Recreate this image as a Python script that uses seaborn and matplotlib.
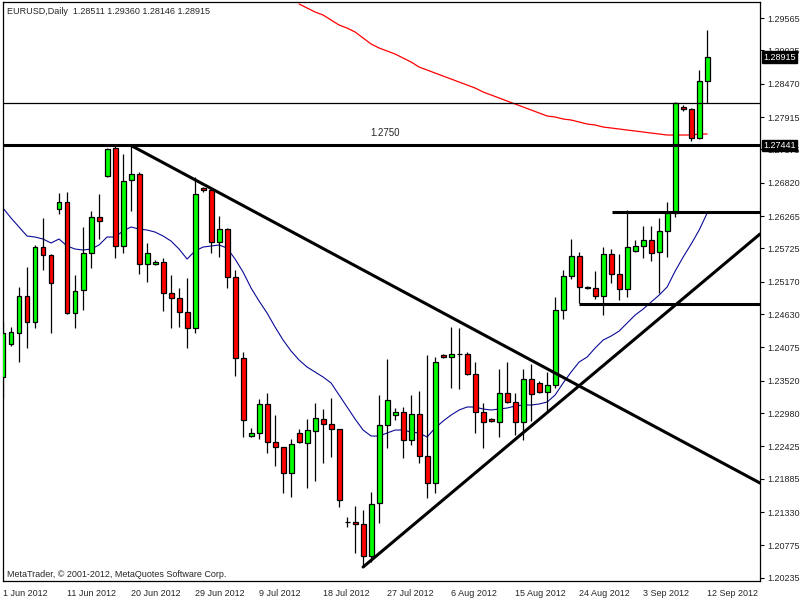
import matplotlib
matplotlib.use('Agg')
import matplotlib.pyplot as plt
import seaborn as sns
import numpy as np

# EURUSD daily bars, 1 Jun 2012 .. 12 Sep 2012 (broker shows Sunday bars too)
opens = [1.23582, 1.24132, 1.24315, 1.24932, 1.24498, 1.25748, 1.25615, 1.26382, 1.26498, 1.24648,
         1.25032, 1.25648, 1.26248, 1.26932, 1.27398, 1.25765, 1.26865, 1.26965, 1.25465, 1.25465,
         1.25498, 1.24982, 1.24898, 1.24665, 1.24398, 1.26732, 1.26698, 1.25832, 1.26048, 1.25248,
         1.23898, 1.22598, 1.22648, 1.23132, 1.22498, 1.22415, 1.21982, 1.22648, 1.22482, 1.22682,
         1.22882, 1.22798, 1.22715, 1.21165, 1.21165, 1.21132, 1.20598, 1.21482, 1.22782, 1.22948,
         1.22998, 1.22532, 1.22965, 1.22265, 1.21815, 1.23948, 1.23915, 1.23965, 1.23965, 1.23632,
         1.22998, 1.22882, 1.22832, 1.23315, 1.23165, 1.22832, 1.23548, 1.23482, 1.23332, 1.23448,
         1.24698, 1.25265, 1.25598, 1.25082, 1.25065, 1.24932, 1.25632, 1.25298, 1.25048, 1.25682,
         1.25765, 1.25865, 1.25665, 1.26015, 1.26315, 1.28082, 1.28048, 1.27565, 1.28511]
highs = [1.24498, 1.24415, 1.25082, 1.25415, 1.25782, 1.26232, 1.25632, 1.26648, 1.26665, 1.25282,
         1.26082, 1.26348, 1.26632, 1.27398, 1.27441, 1.27298, 1.27432, 1.26998, 1.25815, 1.25532,
         1.25565, 1.25282, 1.25065, 1.25232, 1.26915, 1.26748, 1.26732, 1.26265, 1.26060, 1.25365,
         1.23998, 1.22732, 1.23215, 1.23315, 1.22948, 1.22420, 1.22548, 1.22715, 1.22882, 1.23148,
         1.23048, 1.23232, 1.22720, 1.21248, 1.21432, 1.21365, 1.21665, 1.23282, 1.23882, 1.23065,
         1.23082, 1.23282, 1.23348, 1.23948, 1.23915, 1.23965, 1.24415, 1.24398, 1.23998, 1.23832,
         1.23148, 1.22898, 1.23715, 1.23832, 1.23315, 1.23715, 1.23798, 1.23515, 1.23665, 1.24915,
         1.25365, 1.25882, 1.25665, 1.25098, 1.25348, 1.25748, 1.25715, 1.25632, 1.26365, 1.25865,
         1.26098, 1.26098, 1.26232, 1.26498, 1.28165, 1.28115, 1.28065, 1.28698, 1.29360]
lows = [1.23232, 1.24098, 1.23832, 1.24065, 1.24398, 1.25365, 1.24315, 1.26298, 1.24632, 1.24398,
        1.24698, 1.25398, 1.25882, 1.26915, 1.25565, 1.25648, 1.26348, 1.25298, 1.25165, 1.25448,
        1.24682, 1.24398, 1.24415, 1.24065, 1.24315, 1.26665, 1.25648, 1.25582, 1.25065, 1.23598,
        1.22582, 1.22582, 1.22548, 1.22315, 1.22098, 1.21648, 1.21582, 1.22482, 1.21732, 1.21848,
        1.22148, 1.22248, 1.21415, 1.21082, 1.20648, 1.20415, 1.20498, 1.21148, 1.22398, 1.22865,
        1.22232, 1.22448, 1.22148, 1.21565, 1.21648, 1.23898, 1.23398, 1.23382, 1.23620, 1.22648,
        1.22398, 1.22832, 1.22582, 1.23148, 1.22615, 1.22532, 1.22848, 1.23315, 1.22982, 1.23398,
        1.24548, 1.25215, 1.24815, 1.25048, 1.24882, 1.24615, 1.25148, 1.24865, 1.24915, 1.25665,
        1.25565, 1.25515, 1.24982, 1.25582, 1.26248, 1.28015, 1.27515, 1.27550, 1.28146]
closes = [1.24315, 1.24332, 1.24932, 1.24498, 1.25748, 1.25615, 1.25148, 1.26498, 1.24648, 1.25015,
          1.25648, 1.26248, 1.26182, 1.27382, 1.25765, 1.26848, 1.26965, 1.25465, 1.25648, 1.25498,
          1.24982, 1.24898, 1.24665, 1.24398, 1.26632, 1.26698, 1.25832, 1.26048, 1.25248, 1.23898,
          1.22865, 1.22648, 1.23132, 1.22498, 1.22415, 1.21982, 1.22465, 1.22498, 1.22698, 1.22898,
          1.22798, 1.22715, 1.21532, 1.21165, 1.21132, 1.20598, 1.21465, 1.22782, 1.23198, 1.22998,
          1.22532, 1.22965, 1.22265, 1.21815, 1.23832, 1.23915, 1.23965, 1.23965, 1.23632, 1.22998,
          1.22832, 1.22848, 1.23315, 1.23165, 1.22832, 1.23548, 1.23298, 1.23332, 1.23448, 1.24698,
          1.25265, 1.25598, 1.25082, 1.25065, 1.24932, 1.25632, 1.25298, 1.25048, 1.25748, 1.25765,
          1.25865, 1.25648, 1.26015, 1.26315, 1.28148, 1.28048, 1.27565, 1.28511, 1.28915]

# blue moving average, one value per bar
ma_fast = [1.26398, 1.26232, 1.26082, 1.25932, 1.25915, 1.25882, 1.25815, 1.25882, 1.25765, 1.25715,
           1.25698, 1.25715, 1.25782, 1.25915, 1.25915, 1.26015, 1.26082, 1.26048, 1.26032, 1.25998,
           1.25932, 1.25848, 1.25715, 1.25548, 1.25682, 1.25748, 1.25765, 1.25782, 1.25732, 1.25548,
           1.25332, 1.25065, 1.24848, 1.24648, 1.24415, 1.24198, 1.24015, 1.23865, 1.23748, 1.23665,
           1.23582, 1.23482, 1.23282, 1.23082, 1.22882, 1.22698, 1.22598, 1.22598, 1.22648, 1.22698,
           1.22698, 1.22665, 1.22648, 1.22582, 1.22732, 1.22848, 1.22948, 1.23032, 1.23082, 1.23082,
           1.23048, 1.23032, 1.23048, 1.23065, 1.23098, 1.23115, 1.23115, 1.23132, 1.23165, 1.23282,
           1.23482, 1.23665, 1.23832, 1.23915, 1.24065, 1.24198, 1.24265, 1.24348, 1.24482, 1.24615,
           1.24715, 1.24832, 1.24948, 1.25082, 1.25348, 1.25582, 1.25798, 1.26032, 1.26315]
# red slow moving average, visible from bar 37 onwards
ma_slow_start = 37
ma_slow = [1.29798, 1.29732, 1.29665, 1.29615, 1.29532, 1.29448, 1.29398, 1.29332, 1.29232, 1.29132,
           1.29065, 1.29015, 1.28965, 1.28898, 1.28832, 1.28748, 1.28698, 1.28648, 1.28598, 1.28548,
           1.28498, 1.28448, 1.28398, 1.28332, 1.28282, 1.28232, 1.28182, 1.28132, 1.28082, 1.28032,
           1.27982, 1.27932, 1.27915, 1.27882, 1.27865, 1.27832, 1.27798, 1.27782, 1.27748, 1.27732,
           1.27715, 1.27698, 1.27682, 1.27665, 1.27648, 1.27632, 1.27615, 1.27615, 1.27615, 1.27615,
           1.27632, 1.27632]

date_labels = ['1 Jun 2012', '11 Jun 2012', '20 Jun 2012', '29 Jun 2012', '9 Jul 2012', '18 Jul 2012',
               '27 Jul 2012', '6 Aug 2012', '15 Aug 2012', '24 Aug 2012', '3 Sep 2012', '12 Sep 2012']
price_ticks = [1.29565, 1.29025, 1.28470, 1.27915, 1.27375, 1.26820, 1.26265, 1.25725, 1.25170,
               1.24630, 1.24075, 1.23520, 1.22980, 1.22425, 1.21885, 1.21330, 1.20775, 1.20235]

# drawn objects: trend lines (bar, price) and horizontal levels
trend_down_x = [16, 94.6]
trend_down_y = [1.27441, 1.21815]
trend_up_x = [45, 94.6]
trend_up_y = [1.20415, 1.25965]
level_prices = [1.28150, 1.27441, 1.26328, 1.24800]
level_start = [0, 0, 76.1, 72]
level_widths = [0.9, 2.2, 2.2, 2.2]

assert len(opens) == len(highs) == len(lows) == len(closes) == len(ma_fast) == 89
assert ma_slow_start + len(ma_slow) == 89

sns.set_style('white')
plt.rcParams['font.family'] = ['Liberation Sans', 'DejaVu Sans']
FS = 6.5

fig = plt.figure(figsize=(8, 6), dpi=100)
ax = fig.add_axes([3 / 800, 19 / 600, 757 / 800, 579 / 600])

bars = np.arange(len(opens))
o = np.array(opens)
c = np.array(closes)
body_col = np.where(c > o, '#00FF00', '#FF0000')

ax.vlines(bars, lows, highs, color='black', lw=0.9, zorder=3)
ax.bar(bars, np.abs(c - o), bottom=np.minimum(o, c), width=0.62, color=body_col,
       edgecolor='black', linewidth=0.9, zorder=4)

sns.lineplot(x=bars, y=ma_fast, ax=ax, color='#0A0A96', lw=0.8, zorder=2)
sns.lineplot(x=np.arange(ma_slow_start, 89), y=ma_slow, ax=ax, color='#FF0000', lw=0.9, zorder=2)

ax.plot(trend_down_x, trend_down_y, color='black', lw=2.2, zorder=5)
ax.plot(trend_up_x, trend_up_y, color='black', lw=2.2, zorder=5)
for p, s, w in zip(level_prices, level_start, level_widths):
    ax.hlines(p, s, 100, color='black', lw=w, zorder=5)

ax.text(45.9, 1.27648, '1.2750', fontsize=7, va='center', ha='left', zorder=6)

ax.set_xlim(0, 94.6)
ax.set_ylim(1.20182, 1.29832)

ax.set_xticks(np.arange(0, 89, 8))
ax.set_xticklabels(date_labels, fontsize=FS, ha='left')
ax.yaxis.tick_right()
ax.set_yticks(price_ticks)
ax.set_yticklabels([f'{p:.5f}' for p in price_ticks], fontsize=FS)
ax.tick_params(axis='both', direction='out', length=3, width=0.8, color='black', pad=2)
ax.tick_params(axis='x', pad=3)
for sp in ax.spines.values():
    sp.set_color('black')
    sp.set_linewidth(0.9)
ax.set_xlabel('')
ax.set_ylabel('')

# current price / line price boxes on the price scale (they cover the ticks below them)
for p in [closes[-1], level_prices[1]]:
    ax.annotate(f'{p:.5f}', xy=(1.0, p), xycoords=('axes fraction', 'data'),
                xytext=(2.5, 0), textcoords='offset points', fontsize=FS, color='white',
                va='center', ha='left', annotation_clip=False, zorder=10,
                bbox=dict(boxstyle='square,pad=0.15', fc='black', ec='black'))

ax.text(0.005, 0.983, 'EURUSD,Daily  1.28511 1.29360 1.28146 1.28915', transform=ax.transAxes,
        fontsize=FS, va='center', ha='left')
ax.text(0.005, 0.012, 'MetaTrader, \u00a9 2001-2012, MetaQuotes Software Corp.', transform=ax.transAxes,
        fontsize=FS, va='center', ha='left')

fig.savefig('out.png', dpi=100, facecolor='white')
